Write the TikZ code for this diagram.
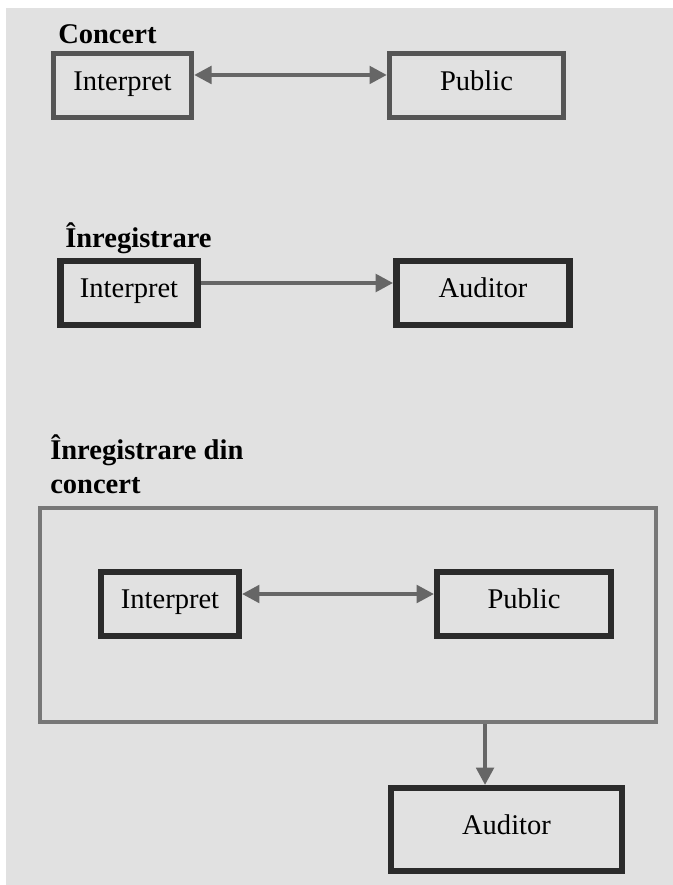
\documentclass[tikz,border=0pt]{standalone}
\usepackage{fontspec}
\setmainfont{Liberation Serif}
\usetikzlibrary{arrows.meta}
\definecolor{pagegray}{HTML}{E1E1E1}
\definecolor{edgemid}{HTML}{555555}
\definecolor{edgedark}{HTML}{2B2B2B}
\definecolor{linkgray}{HTML}{666666}
\definecolor{framegray}{HTML}{777777}

\begin{document}
\begin{tikzpicture}[x=0.75pt, y=-0.75pt,
    box/.style={draw=#1, fill=pagegray, rectangle, inner sep=0pt,
      minimum height=48pt, text height=11.8pt, text depth=5pt,
      font=\fontsize{21.4}{25}\selectfont},
    title/.style={anchor=base west, inner sep=0pt, font=\fontsize{21.4}{25}\selectfont\bfseries},
    link/.style={draw=linkgray, line width=3pt, -{Triangle[length=13pt,width=13pt]}}]
        \useasboundingbox (0,0) rectangle (673,885);
        \fill[pagegray] (6,8) rectangle (673,885);
        % concert
        \node[title] (tconc) at (58,43) {Concert};
        \node[box=edgemid, line width=4pt, minimum width=103.5pt] (int1) at (122.5,85.5) {Interpret};
        \node[box=edgemid, line width=4pt, minimum width=130.5pt] (pub1) at (476.5,85.5) {Public};
        \draw[link, {Triangle[length=13pt,width=13pt]}-{Triangle[length=13pt,width=13pt]}]
          ([yshift=7.9pt]int1.east) -- ([yshift=7.9pt]pub1.west);
        % inregistrare
        \node[title] (treg) at (65,247) {Înregistrare};
        \node[box=edgedark, line width=4.9pt, minimum width=103pt] (int2) at (129,293) {Interpret};
        \node[box=edgedark, line width=4.9pt, minimum width=130pt] (aud2) at (483,293) {Auditor};
        \draw[link] ([yshift=7.5pt]int2.east) -- ([yshift=7.5pt]aud2.west);
        % inregistrare din concert
        \node[title] (tlive) at (50,459) {Înregistrare din};
        \node[title] (tlive2) at (50,493) {concert};
        \node[draw=framegray, line width=3pt, rectangle, inner sep=0pt,
          minimum width=462pt, minimum height=160.5pt] (frame) at (348,615) {};
        \node[box=edgedark, line width=4.5pt, minimum width=103.5pt] (int3) at (170,604) {Interpret};
        \node[box=edgedark, line width=4.5pt, minimum width=130.5pt] (pub3) at (524,604) {Public};
        \draw[link, {Triangle[length=13pt,width=13pt]}-{Triangle[length=13pt,width=13pt]}]
          ([yshift=7.5pt]int3.east) -- ([yshift=7.5pt]pub3.west);
        \node[box=edgedark, line width=4.5pt, minimum width=173.25pt, minimum height=62.25pt] (aud4) at (506.5,829.5) {Auditor};
        \coordinate (drop) at ([xshift=-16.1pt]aud4.north |- frame.south);
        \draw[link] (drop) -- ([xshift=-16.1pt]aud4.north);
      \end{tikzpicture}
\end{document}
